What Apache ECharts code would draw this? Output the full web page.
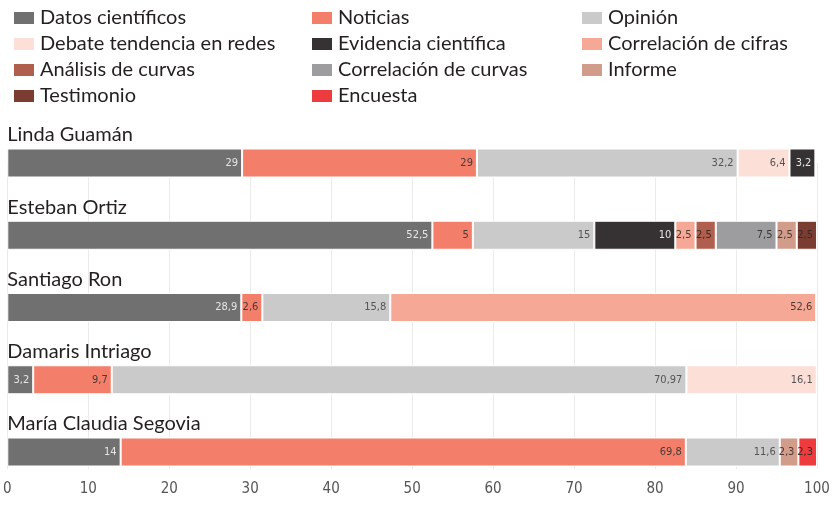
<!DOCTYPE html>
<html><head><meta charset="utf-8">
<script src="https://cdn.jsdelivr.net/npm/echarts@6/dist/echarts.min.js"></script>
<style>html,body{margin:0;padding:0;background:#fff}#c{width:834px;height:508px}</style>
</head><body><div id="c"></div>
<script>
const people = ['Linda Guamán','Esteban Ortiz','Santiago Ron','Damaris Intriago','María Claudia Segovia'];
const seriesNames = ['Datos científicos','Noticias','Opinión','Debate tendencia en redes','Evidencia científica','Correlación de cifras','Análisis de curvas','Correlación de curvas','Informe','Testimonio','Encuesta'];
const datosCientificos = [29, 52.5, 28.9, 3.2, 14];
const noticias = [29, 5, 2.6, 9.7, 69.8];
const opinion = [32.2, 15, 15.8, 70.97, 11.6];
const debateRedes = [6.4, null, null, 16.1, null];
const evidencia = [3.2, 10, null, null, null];
const correlCifras = [null, 2.5, 52.6, null, null];
const analisisCurvas = [null, 2.5, null, null, null];
const correlCurvas = [null, 7.5, null, null, null];
const informe = [null, 2.5, null, null, 2.3];
const testimonio = [null, 2.5, null, null, null];
const encuesta = [null, null, null, null, 2.3];
const xTicks = [0,10,20,30,40,50,60,70,80,90,100];

const values = [datosCientificos, noticias, opinion, debateRedes, evidencia, correlCifras, analisisCurvas, correlCurvas, informe, testimonio, encuesta];
const colors = ['#717070','#F37F6B','#CACACB','#FCDFD6','#363233','#F5A895','#B05E4E','#9D9D9F','#D29C8A','#7B3C31','#EE3B3E'];
const labelColors = ['#e6e6e6','#4a3a38','#555','#555','#e6e6e6','#4a3a38','#3a2a28','#3a3a3a','#4a3a38','#3a2a28','#3a2a28'];

const cond = "'DejaVu Sans Condensed','Liberation Sans Narrow',sans-serif";
const main = "Lato,'Noto Sans',sans-serif";

const series = seriesNames.map((n,i)=>({
  name:n, type:'bar', stack:'t', barWidth:29, clip:false,
  data: values[i],
  itemStyle:{color:colors[i], borderColor:'#fff', borderWidth:1},
  label:{show:true, position:'insideRight', distance:4, fontFamily:cond, fontSize:11, color:labelColors[i],
    formatter:p=> p.value==null ? '' : String(p.value).replace('.',',')}
}));

function legendCol(left, names){
  return {left:left, top:8, padding:0, orient:'vertical', itemWidth:22, itemHeight:14, itemGap:6, icon:'rect',
    selectedMode:false, data:names,
    textStyle:{fontFamily:main, fontSize:20, lineHeight:20, color:'#231f20'}};
}

const chart = echarts.init(document.getElementById('c'));
chart.setOption({
  animation:false,
  color:colors,
  legend:[
    legendCol(12,[seriesNames[0],seriesNames[3],seriesNames[6],seriesNames[9]]),
    legendCol(310,[seriesNames[1],seriesNames[4],seriesNames[7],seriesNames[10]]),
    legendCol(580,[seriesNames[2],seriesNames[5],seriesNames[8]])
  ],
  grid:{left:7, right:17, top:163, bottom:56, containLabel:false},
  xAxis:{type:'value', min:0, max:100, interval:10,
    axisLine:{show:false},
    axisTick:{show:true, length:17, lineStyle:{color:'#ebebeb'}},
    splitLine:{show:true, lineStyle:{color:'#ebebeb', width:1}},
    axisLabel:{margin:30, fontFamily:cond, fontSize:15, color:'#555',
      customValues: xTicks}},
  yAxis:{type:'category', inverse:true, boundaryGap:false, data:people,
    axisLine:{show:false}, axisTick:{show:false}, splitLine:{show:false},
    axisLabel:{inside:true, margin:0, verticalAlign:'bottom', padding:[0,0,18,0],
      fontFamily:main, fontSize:20, color:'#231f20'}},
  series:series
});
</script></body></html>
